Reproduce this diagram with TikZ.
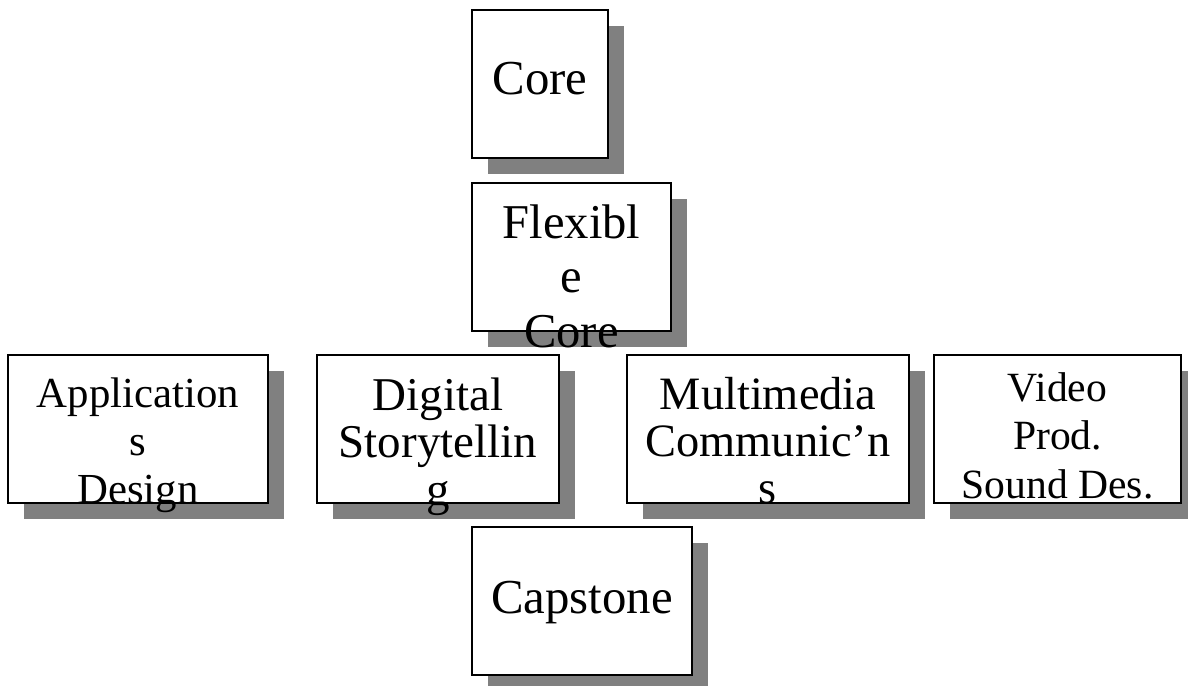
\documentclass[tikz,border=0pt]{standalone}
\usepackage{fontspec}
\setmainfont{Liberation Serif}
\usetikzlibrary{shadows}
\definecolor{shadowgray}{RGB}{128,128,128}

\begin{document}
\begin{tikzpicture}[x=0.5pt,y=-0.5pt,
  block/.style={draw,line width=1pt,fill=white,inner sep=0pt,minimum height=74pt,
    general shadow={fill=shadowgray,shadow xshift=8pt,shadow yshift=-8pt}},
  boxtext/.style={align=center,anchor=base,inner sep=0pt}]

\useasboundingbox (0,0) rectangle (1188,685);

% boxes
\node [block,minimum width=68pt] (core) at (540,84) {};
\node [block,minimum width=99.5pt] (flex) at (571.5,257) {};
\node [block,minimum width=130pt] (apps) at (138,429) {};
\node [block,minimum width=121pt] (story) at (438,429) {};
\node [block,minimum width=141pt] (media) at (768,429) {};
\node [block,minimum width=123.5pt] (video) at (1057.5,429) {};
\node [block,minimum width=110pt] (cap) at (582,601) {};

% texts (base = last line)
\node [boxtext,font=\fontsize{24.4}{27.25}\selectfont] (coretxt) at (540,94) {Core};
\node [boxtext,font=\fontsize{24.3}{27.25}\selectfont] (flextxt) at (571.5,347) {Flexibl\\e\\Core};
\node [boxtext,font=\fontsize{21.4}{24}\selectfont] (appstxt) at (138,503) {Application\\s\\Design};
\node [boxtext,font=\fontsize{23.5}{23.75}\selectfont] (storytxt) at (438,505) {Digital\\Storytellin\\g};
\node [boxtext,font=\fontsize{23.2}{23.5}\selectfont] (mediatxt) at (768,503) {Multimedia\\Communic’n\\s};
\node [boxtext,font=\fontsize{20.8}{24.25}\selectfont] (videotxt) at (1057.5,498) {Video\\Prod.\\Sound Des.};
\node [boxtext,font=\fontsize{24.4}{27.25}\selectfont] (captxt) at (582,613) {Capstone};

\end{tikzpicture}
\end{document}
